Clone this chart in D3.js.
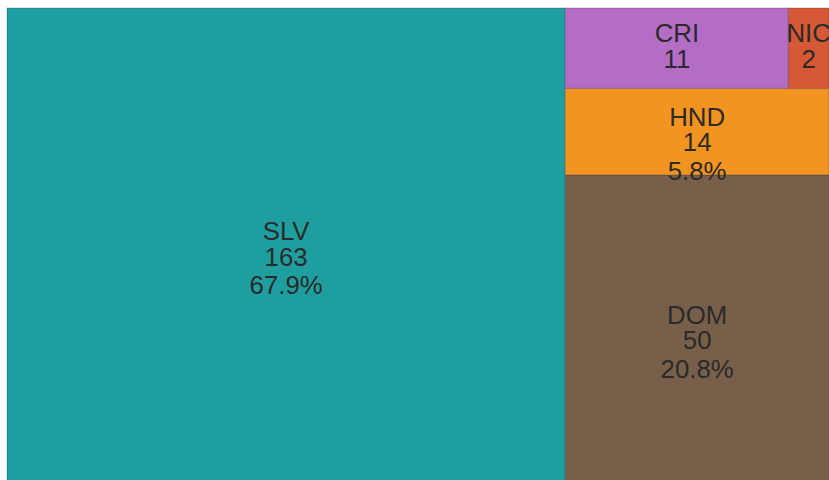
<!DOCTYPE html>
<html>
<head>
<meta charset="utf-8">
<script src="https://cdn.jsdelivr.net/npm/d3@7"></script>
<style>
  html, body { margin: 0; padding: 0; background: #fff; overflow: hidden; }
  #vis svg { display: block; }
</style>
</head>
<body>
<div id="vis"></div>
<script>
// country codes and counts
const labels = ["SLV", "DOM", "HND", "CRI", "NIC"];
const values = [163, 50, 14, 11, 2];
const colors = ["#1f9ea0", "#785f4a", "#f2941f", "#b46cc4", "#d65835"];

const width = 829;
const height = 480;
const margin = { left: 7, top: 8, right: 0, bottom: -4 };
const innerW = width - margin.left - margin.right;
const innerH = height - margin.top - margin.bottom;

const svg = d3.select("#vis")
  .append("svg")
  .attr("width", width)
  .attr("height", height);

const total = d3.sum(values);
const pct = d3.format(".1%");

// first node as a column, the rest stacked up from the bottom, last two share a row
function tile(parent, x0, y0, x1, y1) {
  const [first, ...rest] = parent.children;
  const xm = x0 + (x1 - x0) * first.value / parent.value;
  d3.treemapDice({ children: [first], value: first.value }, x0, y0, xm, y1);

  const restVal = d3.sum(rest, d => d.value);
  const singles = rest.slice(0, -2);
  const pair = rest.slice(-2);
  let yb = y1;
  singles.forEach(n => {
    const h = (y1 - y0) * n.value / restVal;
    n.x0 = xm; n.x1 = x1; n.y1 = yb; n.y0 = yb - h;
    yb -= h;
  });
  d3.treemapDice({ children: pair, value: d3.sum(pair, d => d.value) }, xm, y0, x1, yb);
}

const root = d3.hierarchy({
  children: labels.map((name, i) => ({ name, value: values[i], color: colors[i] }))
}).sum(d => d.value || 0);

d3.treemap()
  .tile(tile)
  .size([innerW, innerH])
  .round(false)(root);

const g = svg.append("g")
  .attr("transform", `translate(${margin.left},${margin.top})`);

const cell = g.selectAll("g.cell")
  .data(root.leaves())
  .enter()
  .append("g")
  .attr("class", "cell");

cell.append("rect")
  .attr("x", d => d.x0)
  .attr("y", d => d.y0)
  .attr("width", d => d.x1 - d.x0)
  .attr("height", d => d.y1 - d.y0)
  .attr("fill", d => d.data.color)
  .attr("stroke", "#333")
  .attr("stroke-opacity", 0.3)
  .attr("stroke-width", 1);

const text = cell.append("text")
  .attr("text-anchor", "middle")
  .attr("fill", "#2a2a2a")
  .style("font-family", "'Liberation Sans', Arial, sans-serif")
  .style("font-size", "25.8px");

text.each(function(d) {
  const cx = (d.x0 + d.x1) / 2;
  const cy = (d.y0 + d.y1) / 2;
  const lines = [
    { t: d.data.name, dy: -5.8 },
    { t: d.data.value, dy: 19.7 }
  ];
  if (d.y1 - d.y0 > 84) lines.push({ t: pct(d.data.value / total), dy: 48.3 });
  d3.select(this).selectAll("tspan")
    .data(lines)
    .enter()
    .append("tspan")
    .attr("x", cx)
    .attr("y", l => cy + l.dy)
    .text(l => l.t);
});
</script>
</body>
</html>
